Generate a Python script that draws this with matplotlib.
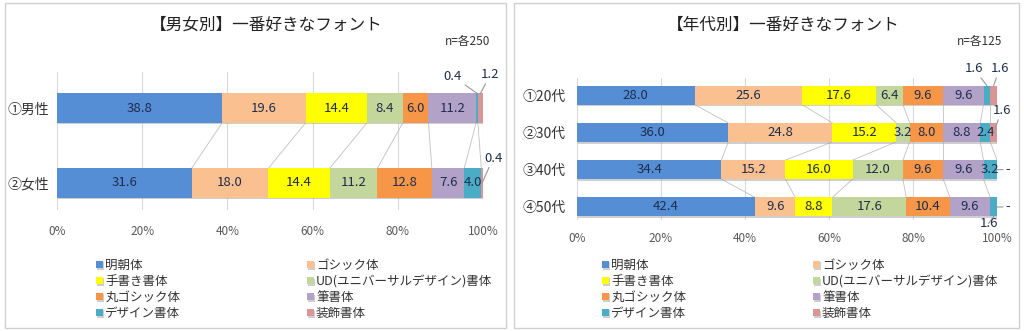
import matplotlib.pyplot as plt
import matplotlib.patheffects as pe
from matplotlib.patches import Rectangle
import numpy as np

plt.rcParams['font.family'] = ['Noto Sans CJK JP', 'DejaVu Sans']

# font categories (legend order)
fonts = ["明朝体", "ゴシック体", "手書き書体", "UD(ユニバーサルデザイン)書体",
         "丸ゴシック体", "筆書体", "デザイン書体", "装飾書体"]
colors = ["#558ED5", "#FAC090", "#FFFF00", "#C3D69B",
          "#F79646", "#B3A2C7", "#4BACC6", "#D99694"]

# left chart: by gender (n=250 each)
gender_labels = ["①男性", "②女性"]
male = [38.8, 19.6, 14.4, 8.4, 6.0, 11.2, 0.4, 1.2]
female = [31.6, 18.0, 14.4, 11.2, 12.8, 7.6, 4.0, 0.4]

# right chart: by age (n=125 each)
age_labels = ["①20代", "②30代", "③40代", "④50代"]
age20 = [28.0, 25.6, 17.6, 6.4, 9.6, 9.6, 1.6, 1.6]
age30 = [36.0, 24.8, 15.2, 3.2, 8.0, 8.8, 2.4, 1.6]
age40 = [34.4, 15.2, 16.0, 12.0, 9.6, 9.6, 3.2, 0.0]
age50 = [42.4, 9.6, 8.8, 17.6, 10.4, 9.6, 1.6, 0.0]

W, H = 1024, 331
fig = plt.figure(figsize=(W / 100, H / 100), dpi=100)

LABEL_C = "#1F2D4D"
GRID_C = "#D9D9D9"


def px_axes(x0, y0, x1, y1):
    return fig.add_axes([x0 / W, 1 - y1 / H, (x1 - x0) / W, (y1 - y0) / H])


def panel_box(x0, y0, x1, y1):
    fig.patches.append(Rectangle((x0 / W, 1 - y1 / H), (x1 - x0) / W, (y1 - y0) / H,
                                 transform=fig.transFigure, fill=False,
                                 edgecolor="#D0D0D0", lw=1.0))


def draw_chart(ax, labels, rows, bar_h, ylim, outside, tick_pad, ylab_pad):
    data = np.array(rows)
    cum = np.cumsum(data, axis=1)
    left = cum - data
    y = np.arange(len(labels))
    shadow = [pe.withSimplePatchShadow(offset=(0.8, -1.2), shadow_rgbFace="#A0A0A0", alpha=0.5)]
    for k in range(data.shape[1]):
        bars = ax.barh(y, data[:, k], left=left[:, k], height=bar_h, color=colors[k],
                       edgecolor="none", label=fonts[k], zorder=3)
        for b in bars:
            b.set_path_effects(shadow)
        for i in range(len(labels)):
            v = data[i, k]
            txt = "-" if v == 0 else f"{v:.1f}"
            if (i, k) in outside:
                (fx, fy), (dx, dy) = outside[(i, k)]
                xy = (left[i, k] + v * fx, i + fy * bar_h)
                ax.annotate(txt, xy=xy, xytext=(dx * 0.72, dy * 0.72),
                            textcoords="offset points", ha="center", va="center",
                            fontsize=9.5, color=LABEL_C, zorder=6, annotation_clip=False,
                            arrowprops=dict(arrowstyle="-", color="#999999", lw=0.8,
                                            shrinkA=0, shrinkB=0))
            else:
                ax.text(left[i, k] + v / 2, i, txt, ha="center", va="center",
                        fontsize=9.5, color=LABEL_C, zorder=5)
    # series lines between neighbouring bars
    for i in range(len(labels) - 1):
        for k in range(data.shape[1]):
            ax.plot([cum[i, k], cum[i + 1, k]], [i + bar_h / 2, i + 1 - bar_h / 2],
                    color="#C0C0C0", lw=0.6, zorder=2)
    ax.set_xlim(0, 100)
    ax.set_ylim(*ylim)
    ax.set_yticks(y)
    ax.set_yticklabels(labels, fontsize=10, color="#333333")
    ax.set_xticks(range(0, 101, 20))
    ax.set_xticklabels([f"{t}%" for t in range(0, 101, 20)], fontsize=8.5, color="#595959")
    ax.tick_params(axis="x", length=0, pad=tick_pad)
    ax.tick_params(axis="y", length=0, pad=ylab_pad)
    ax.xaxis.grid(True, color=GRID_C, lw=0.8)
    ax.set_axisbelow(True)
    for s in ax.spines.values():
        s.set_visible(False)


# ---- left panel ----
panel_box(5, 3, 506, 328)
axL = px_axes(57, 72, 483, 210)
left_out = {
    (0, 6): ((0.5, -0.5), (-24, 17)),
    (0, 7): ((0.5, -0.5), (10, 19)),
    (1, 7): ((0.5, 0.0), (11, 25)),
}
draw_chart(axL, gender_labels, [male, female], 0.39, (1.36, -0.48), left_out, 11, 6)
fig.text(266 / W, 1 - 25 / H, "【男女別】一番好きなフォント", ha="center", va="center",
         fontsize=12, color="#222222")
fig.text(490 / W, 1 - 41 / H, "n=各250", ha="right", va="center", fontsize=8.5, color="#333333")

# ---- right panel ----
panel_box(514, 3, 1019, 328)
axR = px_axes(577, 78, 997, 220)
right_out = {
    (0, 6): ((0.5, -0.5), (-13, 17)),
    (0, 7): ((0.5, -0.5), (6, 17)),
    (1, 7): ((0.5, 0.0), (8, 22)),
    (2, 7): ((0.5, 0.0), (11, 0)),
    (3, 6): ((0.5, 0.5), (-5, -7)),
    (3, 7): ((0.5, 0.0), (11, 0)),
}
draw_chart(axR, age_labels, [age20, age30, age40, age50], 0.51, (3.35, -0.46), right_out, 8.5, 8)
fig.text(783 / W, 1 - 25 / H, "【年代別】一番好きなフォント", ha="center", va="center",
         fontsize=12, color="#222222")
fig.text(1002 / W, 1 - 41 / H, "n=各125", ha="right", va="center", fontsize=8.5, color="#333333")

# ---- legends (two columns, row-major like Excel) ----
order = [0, 2, 4, 6, 1, 3, 5, 7]
for ax, x_anchor in ((axL, 96), (axR, 602)):
    h, l = ax.get_legend_handles_labels()
    fig.legend([h[j] for j in order], [l[j] for j in order], ncol=2,
               loc="upper left", bbox_to_anchor=(x_anchor / W, 1 - 259 / H),
               frameon=False, fontsize=9, handlelength=0.55, handleheight=0.55,
               handletextpad=0.2, labelspacing=0.24, columnspacing=10.1,
               borderaxespad=0, borderpad=0, labelcolor="#333333")

fig.savefig("out.png", dpi=100)
